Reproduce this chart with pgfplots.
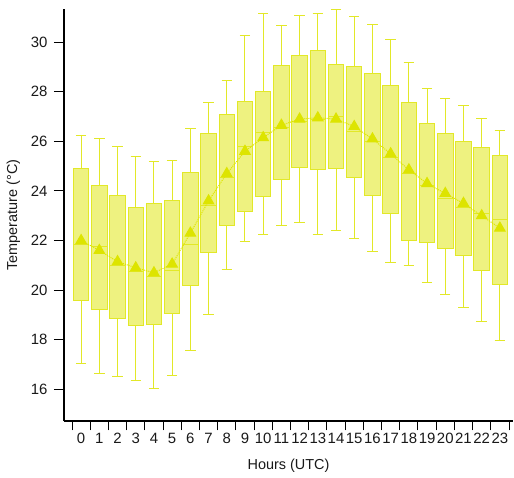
\documentclass[border=0pt]{standalone}
\usepackage{pgfplots}
\pgfplotsset{compat=1.18}
\usepgfplotslibrary{statistics}
\usepackage{fontspec}
\setmainfont{Liberation Sans}
\definecolor{boxfill}{RGB}{238,242,128}
\definecolor{boxdraw}{RGB}{226,232,40}
\definecolor{meancol}{RGB}{221,228,0}
\newcommand{\bx}[6]{\addplot[draw=boxdraw, fill=boxfill, line width=1pt,
  boxplot prepared={draw position=#1, lower whisker=#2, lower quartile=#3, median=#4,
  upper quartile=#5, upper whisker=#6, box extend=0.85, whisker extend=0.57}] coordinates {};}
\begin{document}
\begin{tikzpicture}
\begin{axis}[name=ax,
  scale only axis, width=449bp, height=412bp,
  xmin=-0.94, xmax=23.72, ymin=14.72, ymax=31.34,
  boxplot/draw direction=y,
  axis x line*=bottom, axis y line*=left,
  axis line style={-, line width=1.2pt, black},
  tick align=outside,
  major tick length=10bp,
  xtick={-0.5,0.5,...,23.5}, xticklabels={},
  x tick style={black, line width=1pt, yshift=0.5bp},
  extra x ticks={0,...,23},
  extra x tick labels={0,1,2,3,4,5,6,7,8,9,10,11,12,13,14,15,16,17,18,19,20,21,22,23},
  extra x tick style={major tick length=0pt, x tick style={draw=none}},
  ytick={16,18,...,30},
  y tick style={black, line width=1pt},
  /pgf/number format/assume math mode=true,
  ticklabel style={font=\fontsize{15}{17}\selectfont, text=black!90},
  yticklabel style={xshift=-3bp},
  xticklabel style={yshift=-9bp},
  xlabel={Hours (UTC)}, ylabel={Temperature (°C)},
  label style={font=\fontsize{14.5}{17}\selectfont, text=black!90},
  xlabel style={at={(axis description cs:0.5,0)}, anchor=center, yshift=-45bp},
  ylabel style={yshift=4bp},
  clip=false,
]
\bx{0}{17.02}{19.60}{21.85}{24.89}{26.25}
\bx{1}{16.63}{19.21}{21.75}{24.22}{26.11}
\bx{2}{16.50}{18.87}{21.00}{23.81}{25.78}
\bx{3}{16.34}{18.58}{20.75}{23.34}{25.39}
\bx{4}{16.04}{18.62}{20.55}{23.48}{25.17}
\bx{5}{16.54}{19.07}{20.80}{23.63}{25.22}
\bx{6}{17.56}{20.18}{21.85}{24.74}{26.50}
\bx{7}{19.03}{21.51}{23.40}{26.30}{27.56}
\bx{8}{20.84}{22.60}{24.55}{27.10}{28.47}
\bx{9}{21.96}{23.19}{25.80}{27.62}{30.27}
\bx{10}{22.25}{23.77}{26.35}{28.02}{31.14}
\bx{11}{22.59}{24.45}{26.55}{29.08}{30.66}
\bx{12}{22.74}{24.94}{26.80}{29.46}{31.09}
\bx{13}{22.25}{24.85}{26.90}{29.66}{31.17}
\bx{14}{22.40}{24.89}{27.00}{29.12}{31.33}
\bx{15}{22.07}{24.55}{26.40}{29.02}{31.03}
\bx{16}{21.55}{23.81}{26.00}{28.75}{30.70}
\bx{17}{21.13}{23.10}{25.35}{28.25}{30.09}
\bx{18}{20.99}{22.00}{24.70}{27.56}{29.18}
\bx{19}{20.30}{21.93}{24.20}{26.73}{28.14}
\bx{20}{19.81}{21.66}{23.70}{26.33}{27.71}
\bx{21}{19.31}{21.39}{23.35}{25.99}{27.43}
\bx{22}{18.73}{20.81}{23.10}{25.76}{26.93}
\bx{23}{17.95}{20.21}{22.85}{25.43}{26.43}
\addplot[meancol, densely dotted, line width=1pt, mark=triangle*, mark size=6bp,
  mark options={solid, fill=meancol, draw=meancol}] coordinates {
(0,22.0) (1,21.6) (2,21.15) (3,20.9) (4,20.7) (5,21.05) (6,22.3) (7,23.6)
(8,24.7) (9,25.6) (10,26.15) (11,26.65) (12,26.9) (13,26.95) (14,26.9) (15,26.6)
(16,26.1) (17,25.5) (18,24.85) (19,24.3) (20,23.9) (21,23.5) (22,23.0) (23,22.5)};
\end{axis}
\pgfresetboundingbox
\path[use as bounding box] ([xshift=-64bp,yshift=-57bp]ax.south west) rectangle ([xshift=1bp,yshift=9bp]ax.north east);
\end{tikzpicture}
\end{document}
